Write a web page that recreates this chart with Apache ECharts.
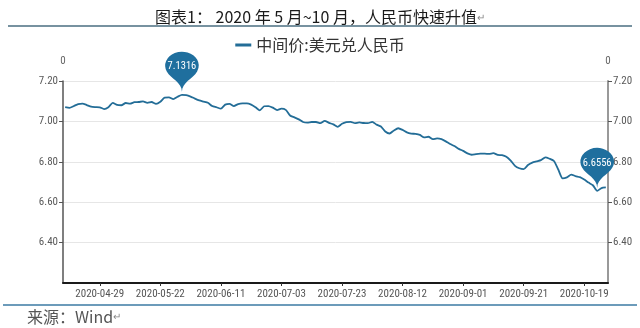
<!DOCTYPE html>
<html>
<head>
<meta charset="utf-8">
<script src="https://cdn.jsdelivr.net/npm/echarts@6/dist/echarts.min.js"></script>
<style>
  html, body { margin: 0; padding: 0; background: #ffffff; }
  #chart { width: 640px; height: 328px; }
</style>
</head>
<body>
<div id="chart"></div>
<script>
// Trading days shown on the category axis
const dates = [
  '2020-04-17','2020-04-20','2020-04-21','2020-04-22','2020-04-23','2020-04-24','2020-04-27','2020-04-28','2020-04-29','2020-04-30',
  '2020-05-06','2020-05-07','2020-05-08','2020-05-11','2020-05-12','2020-05-13','2020-05-14','2020-05-15','2020-05-18','2020-05-19',
  '2020-05-20','2020-05-21','2020-05-22','2020-05-25','2020-05-26','2020-05-27','2020-05-28','2020-05-29','2020-06-01','2020-06-02',
  '2020-06-03','2020-06-04','2020-06-05','2020-06-08','2020-06-09','2020-06-10','2020-06-11','2020-06-12','2020-06-15','2020-06-16',
  '2020-06-17','2020-06-18','2020-06-19','2020-06-22','2020-06-23','2020-06-24','2020-06-29','2020-06-30','2020-07-01','2020-07-02',
  '2020-07-03','2020-07-06','2020-07-07','2020-07-08','2020-07-09','2020-07-10','2020-07-13','2020-07-14','2020-07-15','2020-07-16',
  '2020-07-17','2020-07-20','2020-07-21','2020-07-22','2020-07-23','2020-07-24','2020-07-27','2020-07-28','2020-07-29','2020-07-30',
  '2020-07-31','2020-08-03','2020-08-04','2020-08-05','2020-08-06','2020-08-07','2020-08-10','2020-08-11','2020-08-12','2020-08-13',
  '2020-08-14','2020-08-17','2020-08-18','2020-08-19','2020-08-20','2020-08-21','2020-08-24','2020-08-25','2020-08-26','2020-08-27',
  '2020-08-28','2020-08-31','2020-09-01','2020-09-02','2020-09-03','2020-09-04','2020-09-07','2020-09-08','2020-09-09','2020-09-10',
  '2020-09-11','2020-09-14','2020-09-15','2020-09-16','2020-09-17','2020-09-18','2020-09-21','2020-09-22','2020-09-23','2020-09-24',
  '2020-09-25','2020-09-28','2020-09-29','2020-09-30','2020-10-09','2020-10-12','2020-10-13','2020-10-14','2020-10-15','2020-10-16',
  '2020-10-19','2020-10-20','2020-10-21','2020-10-22','2020-10-23','2020-10-26'
];

// USD/CNY central parity rate
const midRate = [
  7.071, 7.067, 7.076, 7.086, 7.088, 7.081, 7.073, 7.071, 7.070, 7.061,
  7.070, 7.092, 7.082, 7.080, 7.091, 7.088, 7.095, 7.096, 7.099, 7.092,
  7.096, 7.087, 7.097, 7.118, 7.119, 7.110, 7.122, 7.1316, 7.130, 7.123,
  7.113, 7.104, 7.098, 7.092, 7.076, 7.070, 7.063, 7.083, 7.087, 7.076,
  7.086, 7.089, 7.089, 7.083, 7.070, 7.055, 7.075, 7.076, 7.068, 7.056,
  7.063, 7.057, 7.029, 7.020, 7.010, 6.997, 6.994, 6.997, 6.997, 6.991,
  7.003, 6.993, 6.985, 6.973, 6.988, 6.996, 6.998, 6.991, 6.995, 6.992,
  6.991, 6.998, 6.984, 6.975, 6.950, 6.940, 6.955, 6.966, 6.958, 6.946,
  6.940, 6.938, 6.933, 6.921, 6.924, 6.912, 6.916, 6.912, 6.901, 6.888,
  6.878, 6.864, 6.854, 6.842, 6.835, 6.838, 6.840, 6.840, 6.839, 6.843,
  6.834, 6.833, 6.825, 6.806, 6.780, 6.768, 6.764, 6.784, 6.796, 6.802,
  6.808, 6.822, 6.815, 6.804, 6.762, 6.718, 6.723, 6.737, 6.729, 6.724,
  6.712, 6.697, 6.684, 6.6556, 6.670, 6.673
];

const seriesName = '中间价:美元兑人民币';
const titleText = '图表1： 2020 年 5 月~10 月，人民币快速升值';
const sourceText = '来源：Wind';

const numFont = '"Liberation Sans Narrow", "Roboto Condensed", "Noto Sans", sans-serif';
const cjkFont = '"Noto Sans CJK SC", "Noto Sans", sans-serif';
const lineColor = '#236d97';
const pinColor = '#1f6f9e';

// labels every 14 trading days, starting at index 8
const showLabel = (i) => i % 14 === 8;

const yAxisBase = {
  type: 'value',
  min: 6.2,
  max: 7.2,
  interval: 0.2,
  name: '0',
  nameLocation: 'end',
  nameGap: 14,
  nameTextStyle: { color: '#666', fontSize: 11, fontFamily: numFont },
  axisLabel: {
    color: '#595959',
    fontSize: 11,
    fontFamily: numFont,
    showMinLabel: false,
    formatter: (v) => v.toFixed(2)
  },
  axisTick: { show: true, length: 4, lineStyle: { color: '#555' } },
  splitLine: { show: true, lineStyle: { color: '#e6e6e6', width: 1 } }
};

const chart = echarts.init(document.getElementById('chart'));
chart.setOption({
  backgroundColor: '#ffffff',
  animation: false,
  title: {
    text: titleText + '{r|↵}',
    left: 'center',
    top: 4,
    textStyle: {
      fontSize: 16,
      fontWeight: 'normal',
      color: '#1a1a1a',
      fontFamily: cjkFont,
      rich: { r: { fontSize: 10, color: '#888', fontFamily: cjkFont } }
    }
  },
  legend: {
    top: 32,
    left: 'center',
    itemWidth: 16,
    itemHeight: 3,
    itemGap: 6,
    textStyle: { fontSize: 16, color: '#333', fontFamily: cjkFont },
    data: [{ name: seriesName, icon: 'rect' }]
  },
  grid: { left: 63, right: 32, top: 81, bottom: 45 },
  xAxis: {
    type: 'category',
    data: dates,
    boundaryGap: true,
    axisLine: { lineStyle: { color: '#1a1a1a', width: 2 } },
    axisTick: { show: true, alignWithLabel: true, interval: showLabel, length: 3, lineStyle: { color: '#333' } },
    axisLabel: { interval: showLabel, color: '#555', fontSize: 11, fontFamily: numFont, margin: 6 },
    splitLine: { show: false }
  },
  yAxis: [
    Object.assign({}, yAxisBase, {
      position: 'left',
      axisLine: { show: true, lineStyle: { color: '#555', width: 1.5 } },
      axisLabel: Object.assign({}, yAxisBase.axisLabel, { margin: 5 })
    }),
    Object.assign({}, yAxisBase, {
      position: 'right',
      axisLine: { show: true, lineStyle: { color: '#999', width: 2 } },
      axisLabel: Object.assign({}, yAxisBase.axisLabel, { margin: 5 }),
      splitLine: { show: false }
    })
  ],
  series: [{
    name: seriesName,
    type: 'line',
    data: midRate,
    yAxisIndex: 0,
    symbol: 'none',
    smooth: 0.2,
    lineStyle: { color: lineColor, width: 1.8 },
    itemStyle: { color: lineColor },
    markPoint: {
      symbol: 'pin',
      symbolSize: [56, 46],
      symbolOffset: [0, -3],
      itemStyle: { color: pinColor },
      label: { color: '#ffffff', fontSize: 10.5, fontFamily: numFont, offset: [0, -1], formatter: (p) => String(p.value) },
      data: [{ type: 'max' }, { type: 'min' }]
    }
  }],
  graphic: [
    { type: 'line', shape: { x1: 8, y1: 26, x2: 632, y2: 26 }, style: { stroke: '#4a6e80', lineWidth: 1.5 } },
    { type: 'line', shape: { x1: 3, y1: 305, x2: 637, y2: 305 }, style: { stroke: '#3b7aa3', lineWidth: 1.5 } },
    {
      type: 'text', left: 27, top: 309,
      style: {
        text: sourceText + '{r|↵}',
        fill: '#555', fontSize: 16, fontFamily: cjkFont,
        rich: { r: { fontSize: 10, fill: '#888' } }
      }
    }
  ]
});
</script>
</body>
</html>
